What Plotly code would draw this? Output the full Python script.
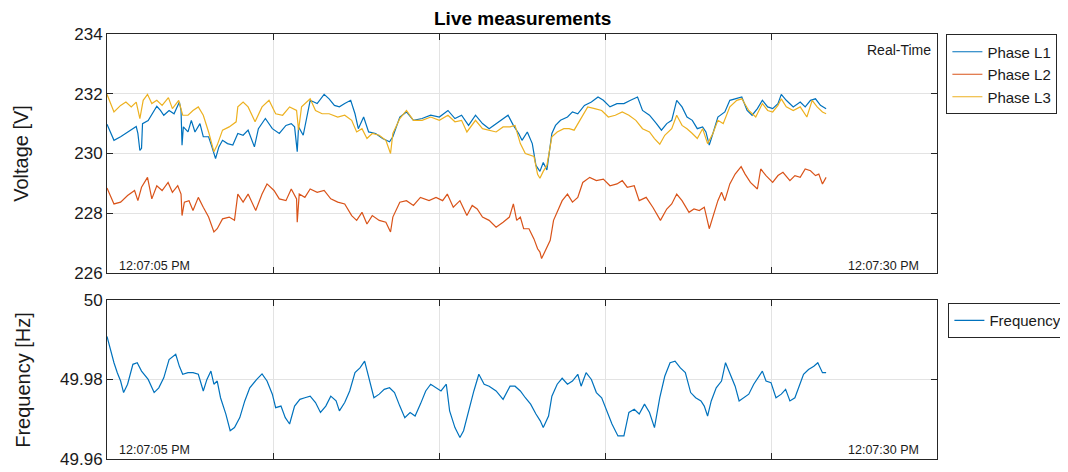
import pandas as pd
import plotly.graph_objects as go

# ---------------- data (seconds after 12:07:05, value) ----------------
START = "2024-01-01 12:07:05"
X_END_SECONDS = 25
TICK_SECONDS = 5

SERIES_NAMES = ["Phase L1", "Phase L2", "Phase L3"]
FREQ_NAME = "Frequency"

phase_l1 = [(0, 230.98), (0.21, 230.44), (0.41, 230.56), (0.73, 230.78), (0.88, 230.90), (0.93, 230.67), (0.99, 230.10),
            (1.04, 230.17), (1.07, 231.00), (1.24, 231.10), (1.40, 231.40), (1.50, 231.58), (1.61, 231.44), (1.71, 231.28),
            (1.87, 231.44), (2.02, 231.33), (2.18, 231.72), (2.23, 231.44), (2.26, 230.28), (2.30, 230.89), (2.44, 230.72),
            (2.54, 231.11), (2.65, 230.72), (2.80, 231.00), (2.90, 230.56), (3.06, 230.56), (3.16, 230.22), (3.27, 229.83),
            (3.37, 230.22), (3.48, 230.44), (3.63, 230.33), (3.79, 230.28), (3.94, 230.67), (4.10, 230.61), (4.25, 230.78),
            (4.44, 230.22), (4.56, 230.83), (4.77, 231.17), (4.98, 230.83), (5.19, 230.67), (5.39, 230.94), (5.55, 231.00),
            (5.65, 230.89), (5.73, 230.06), (5.77, 230.89), (5.91, 230.61), (6.12, 231.78), (6.33, 231.67), (6.54, 231.98),
            (6.69, 231.83), (6.85, 231.61), (7.00, 231.56), (7.16, 231.67), (7.34, 231.78), (7.47, 231.33), (7.57, 230.83),
            (7.73, 231.22), (7.88, 230.72), (8.09, 230.67), (8.30, 230.50), (8.51, 230.39), (8.61, 230.56), (8.82, 231.22),
            (9.02, 231.39), (9.23, 231.11), (9.49, 231.17), (9.75, 231.28), (10.01, 231.22), (10.27, 231.44), (10.48, 231.17),
            (10.68, 231.28), (10.89, 230.94), (11.10, 231.28), (11.31, 231.00), (11.51, 230.83), (11.72, 231.00), (11.93, 231.17),
            (12.08, 231.28), (12.24, 230.94), (12.40, 230.67), (12.50, 230.44), (12.66, 230.72), (12.81, 230.33), (12.92, 229.60),
            (13.04, 229.40), (13.14, 229.70), (13.25, 229.45), (13.30, 229.90), (13.40, 230.67), (13.51, 230.94), (13.66, 231.11),
            (13.87, 231.22), (14.02, 231.39), (14.18, 231.33), (14.38, 231.61), (14.59, 231.72), (14.79, 231.89), (14.95, 231.78),
            (15.15, 231.56), (15.36, 231.67), (15.57, 231.67), (15.77, 231.78), (15.98, 231.89), (16.13, 231.44), (16.34, 231.28),
            (16.55, 231.00), (16.70, 230.78), (16.86, 231.00), (17.01, 231.11), (17.16, 231.78), (17.32, 231.56), (17.47, 231.22),
            (17.63, 231.11), (17.78, 230.83), (17.94, 230.89), (18.04, 230.72), (18.14, 230.28), (18.25, 230.67), (18.40, 231.22),
            (18.61, 231.39), (18.76, 231.78), (18.92, 231.83), (19.12, 231.89), (19.28, 231.44), (19.43, 231.28), (19.59, 231.50),
            (19.74, 231.78), (19.90, 231.56), (20.05, 231.50), (20.21, 231.67), (20.31, 231.98), (20.46, 231.78), (20.67, 231.56),
            (20.88, 231.72), (21.03, 231.56), (21.19, 231.78), (21.34, 231.83), (21.49, 231.61), (21.66, 231.50)]

phase_l2 = [(0, 228.84), (0.21, 228.31), (0.41, 228.37), (0.62, 228.59), (0.83, 228.76), (0.93, 228.42), (1.04, 228.87),
            (1.22, 229.20), (1.35, 228.48), (1.50, 228.92), (1.66, 228.76), (1.84, 229.03), (1.97, 228.70), (2.13, 228.92),
            (2.23, 228.64), (2.26, 227.92), (2.33, 228.37), (2.47, 228.42), (2.59, 228.09), (2.75, 228.53), (2.90, 228.20),
            (3.06, 227.87), (3.22, 227.37), (3.32, 227.48), (3.48, 227.81), (3.68, 227.87), (3.84, 227.76), (3.94, 228.64),
            (4.10, 228.37), (4.25, 228.64), (4.48, 228.09), (4.67, 228.64), (4.82, 228.98), (5.03, 228.76), (5.19, 228.48),
            (5.39, 228.42), (5.55, 228.81), (5.71, 228.48), (5.73, 227.70), (5.79, 228.64), (5.96, 228.53), (6.12, 228.81),
            (6.33, 228.70), (6.54, 228.76), (6.74, 228.48), (6.95, 228.37), (7.16, 228.31), (7.37, 227.92), (7.52, 227.76),
            (7.68, 228.03), (7.83, 227.64), (7.99, 227.92), (8.20, 227.76), (8.40, 227.70), (8.54, 227.37), (8.61, 227.87),
            (8.82, 228.37), (9.02, 228.42), (9.23, 228.26), (9.44, 228.53), (9.70, 228.42), (9.91, 228.53), (10.11, 228.42),
            (10.25, 228.64), (10.43, 228.20), (10.63, 228.42), (10.84, 227.92), (11.00, 228.26), (11.15, 228.14), (11.31, 227.87),
            (11.51, 227.76), (11.72, 227.53), (11.93, 227.70), (12.12, 227.87), (12.24, 228.31), (12.34, 227.76), (12.45, 227.87),
            (12.55, 227.48), (12.71, 227.48), (12.86, 227.14), (12.97, 226.81), (13.04, 226.70), (13.09, 226.48), (13.25, 226.87),
            (13.35, 227.09), (13.45, 227.76), (13.56, 228.03), (13.71, 228.42), (13.87, 228.64), (14.02, 228.37), (14.18, 228.53),
            (14.33, 229.03), (14.54, 229.20), (14.74, 229.09), (14.95, 229.14), (15.15, 228.92), (15.36, 228.98), (15.52, 229.09),
            (15.67, 228.87), (15.88, 228.92), (16.03, 228.42), (16.24, 228.53), (16.44, 228.20), (16.67, 227.76), (16.86, 228.14),
            (17.01, 228.31), (17.16, 228.64), (17.32, 228.42), (17.53, 228.03), (17.68, 228.14), (17.84, 228.09), (17.99, 228.20),
            (18.14, 227.48), (18.30, 228.09), (18.40, 228.42), (18.51, 228.70), (18.61, 228.42), (18.76, 228.98), (18.92, 229.31),
            (19.10, 229.56), (19.22, 229.31), (19.38, 229.03), (19.59, 228.81), (19.69, 229.48), (19.85, 229.26), (20.05, 229.03),
            (20.21, 229.26), (20.36, 229.37), (20.57, 229.09), (20.72, 229.26), (20.88, 229.20), (21.03, 229.48), (21.19, 229.42),
            (21.34, 229.26), (21.44, 229.31), (21.55, 228.98), (21.66, 229.20)]

phase_l3 = [(0, 231.98), (0.10, 231.67), (0.21, 231.39), (0.41, 231.61), (0.57, 231.72), (0.73, 231.56), (0.88, 231.72),
            (0.99, 231.17), (1.09, 231.78), (1.22, 231.98), (1.35, 231.67), (1.50, 231.78), (1.66, 231.61), (1.85, 231.87),
            (1.97, 231.50), (2.16, 231.78), (2.28, 231.28), (2.44, 231.28), (2.59, 231.44), (2.75, 231.56), (2.90, 231.28),
            (3.06, 230.72), (3.22, 230.06), (3.32, 230.28), (3.48, 230.78), (3.68, 230.89), (3.89, 231.06), (3.94, 231.56),
            (4.10, 231.72), (4.25, 231.56), (4.46, 231.06), (4.67, 231.56), (4.88, 231.78), (5.08, 231.33), (5.29, 231.28),
            (5.50, 231.56), (5.71, 231.44), (5.77, 230.78), (5.86, 231.56), (6.12, 231.83), (6.28, 231.44), (6.48, 231.33),
            (6.69, 231.33), (6.95, 231.22), (7.16, 231.28), (7.37, 231.11), (7.52, 230.72), (7.68, 230.83), (7.83, 230.50),
            (7.99, 230.67), (8.20, 230.61), (8.40, 230.44), (8.54, 230.00), (8.61, 230.67), (8.82, 231.17), (9.02, 231.44),
            (9.23, 231.11), (9.49, 231.11), (9.75, 231.22), (10.01, 231.11), (10.27, 231.28), (10.48, 231.06), (10.68, 231.11),
            (10.84, 230.72), (11.10, 231.11), (11.31, 230.83), (11.51, 230.78), (11.72, 230.72), (11.93, 230.89), (12.14, 230.89),
            (12.29, 230.94), (12.45, 230.33), (12.60, 230.00), (12.76, 229.94), (12.86, 229.90), (12.97, 229.30), (13.04, 229.17),
            (13.14, 229.40), (13.25, 229.60), (13.40, 230.56), (13.56, 230.72), (13.76, 230.83), (13.92, 230.83), (14.07, 230.78),
            (14.28, 231.17), (14.48, 231.56), (14.69, 231.50), (14.90, 231.44), (15.10, 231.22), (15.31, 231.28), (15.52, 231.39),
            (15.72, 231.28), (15.93, 231.11), (16.13, 230.83), (16.34, 230.72), (16.49, 230.50), (16.65, 230.31), (16.80, 230.61),
            (17.01, 230.83), (17.16, 231.28), (17.32, 230.94), (17.47, 230.83), (17.63, 230.67), (17.78, 230.50), (17.94, 230.83),
            (18.09, 230.33), (18.25, 230.67), (18.40, 231.11), (18.56, 231.00), (18.76, 231.56), (18.97, 231.78), (19.12, 231.83),
            (19.33, 231.44), (19.54, 231.22), (19.74, 231.67), (19.90, 231.44), (20.05, 231.39), (20.21, 231.61), (20.31, 231.83),
            (20.46, 231.56), (20.67, 231.44), (20.88, 231.56), (21.08, 231.22), (21.24, 231.78), (21.39, 231.56), (21.55, 231.39),
            (21.66, 231.33)]

frequency = [(0, 49.9908), (0.10, 49.9875), (0.21, 49.9842), (0.31, 49.9817), (0.41, 49.9796), (0.50, 49.9767), (0.62, 49.9788),
             (0.78, 49.9838), (0.91, 49.9842), (1.04, 49.9821), (1.24, 49.9800), (1.42, 49.9767), (1.56, 49.9779), (1.71, 49.9804),
             (1.87, 49.9850), (2.07, 49.9863), (2.18, 49.9833), (2.28, 49.9813), (2.44, 49.9817), (2.59, 49.9817), (2.75, 49.9813),
             (2.90, 49.9771), (3.01, 49.9800), (3.13, 49.9821), (3.22, 49.9788), (3.32, 49.9796), (3.42, 49.9754), (3.58, 49.9713),
             (3.71, 49.9671), (3.84, 49.9679), (4.00, 49.9704), (4.15, 49.9746), (4.30, 49.9779), (4.51, 49.9800), (4.67, 49.9814),
             (4.82, 49.9796), (4.98, 49.9763), (5.08, 49.9729), (5.24, 49.9733), (5.37, 49.9704), (5.50, 49.9688), (5.65, 49.9733),
             (5.81, 49.9750), (5.96, 49.9754), (6.12, 49.9758), (6.28, 49.9742), (6.43, 49.9717), (6.59, 49.9733), (6.74, 49.9758),
             (6.90, 49.9746), (7.00, 49.9721), (7.16, 49.9742), (7.31, 49.9771), (7.47, 49.9817), (7.62, 49.9829), (7.76, 49.9846),
             (7.88, 49.9808), (8.04, 49.9754), (8.20, 49.9763), (8.35, 49.9775), (8.51, 49.9779), (8.66, 49.9767), (8.82, 49.9733),
             (8.97, 49.9704), (9.13, 49.9717), (9.28, 49.9708), (9.44, 49.9738), (9.60, 49.9771), (9.75, 49.9788), (9.91, 49.9779),
             (10.06, 49.9771), (10.22, 49.9788), (10.32, 49.9721), (10.48, 49.9679), (10.63, 49.9654), (10.74, 49.9671),
             (10.89, 49.9721), (11.05, 49.9771), (11.20, 49.9813), (11.36, 49.9788), (11.51, 49.9783), (11.72, 49.9771),
             (11.93, 49.9750), (12.14, 49.9783), (12.29, 49.9783), (12.45, 49.9771), (12.60, 49.9754), (12.76, 49.9738),
             (12.92, 49.9713), (13.05, 49.9696), (13.14, 49.9679), (13.30, 49.9708), (13.40, 49.9758), (13.56, 49.9788),
             (13.71, 49.9803), (13.87, 49.9788), (14.02, 49.9796), (14.18, 49.9813), (14.28, 49.9783), (14.43, 49.9817),
             (14.59, 49.9800), (14.74, 49.9767), (14.90, 49.9754), (15.05, 49.9721), (15.21, 49.9688), (15.39, 49.9658),
             (15.57, 49.9658), (15.72, 49.9717), (15.88, 49.9725), (16.03, 49.9713), (16.19, 49.9738), (16.34, 49.9717),
             (16.49, 49.9679), (16.65, 49.9754), (16.80, 49.9808), (16.96, 49.9842), (17.11, 49.9846), (17.27, 49.9829),
             (17.42, 49.9817), (17.58, 49.9767), (17.73, 49.9754), (17.89, 49.9746), (17.99, 49.9733), (18.09, 49.9708),
             (18.20, 49.9746), (18.35, 49.9779), (18.51, 49.9796), (18.63, 49.9842), (18.76, 49.9817), (18.92, 49.9783),
             (19.04, 49.9746), (19.18, 49.9754), (19.33, 49.9763), (19.48, 49.9788), (19.64, 49.9808), (19.74, 49.9821),
             (19.85, 49.9796), (20.00, 49.9792), (20.15, 49.9754), (20.31, 49.9763), (20.44, 49.9775), (20.57, 49.9746),
             (20.72, 49.9754), (20.88, 49.9788), (20.98, 49.9813), (21.13, 49.9825), (21.29, 49.9833), (21.41, 49.9842),
             (21.55, 49.9817), (21.66, 49.9817)]

voltage_ticks = [226, 228, 230, 232, 234]
freq_ticks = [49.96, 49.98, 50]
freq_tick_text = ["49.96", "49.98", "50"]
corner_left = "12:07:05 PM"
corner_right = "12:07:30 PM"

# ---------------- styling ----------------
FONT = "Liberation Sans, Arial, Helvetica, sans-serif"
C_L1, C_L2, C_L3 = "#0072BD", "#D95319", "#EDB120"
AX = "#262626"
GRID = "#e3e3e3"
OFF = 8  # page body margin around the plot div

base = pd.Timestamp(START)


def to_xy(pairs):
    xs = [base + pd.to_timedelta(t, unit="s") for t, _ in pairs]
    ys = [v for _, v in pairs]
    return xs, ys


fig = go.Figure()
for name, data, col in zip(SERIES_NAMES, [phase_l1, phase_l2, phase_l3], [C_L1, C_L2, C_L3]):
    xs, ys = to_xy(data)
    fig.add_trace(go.Scatter(x=xs, y=ys, mode="lines", name=name, line=dict(color=col, width=1.2),
                             xaxis="x", yaxis="y", legend="legend"))
xs, ys = to_xy(frequency)
fig.add_trace(go.Scatter(x=xs, y=ys, mode="lines", name=FREQ_NAME, line=dict(color=C_L1, width=1.2),
                         xaxis="x2", yaxis="y2", legend="legend2"))

W, H = 1068 - 2 * OFF, 472 - OFF
# target page pixel positions
P_LEFT, P_RIGHT, P_TOP, P_BOT = 106.7, 937.3, 33.5, 459.5
ML, MR = P_LEFT - OFF, W - (P_RIGHT - OFF)
MT, MB = P_TOP - OFF, H - (P_BOT - OFF)
PH = H - MT - MB
PW = W - ML - MR


def py(page_y):
    """page y pixel -> plot-area paper fraction"""
    return (P_BOT - page_y) / PH


def px(page_x):
    return (page_x - P_LEFT) / PW


top_dom = [py(273), 1.0]
bot_dom = [0.0, py(300)]

x_range = [base, base + pd.to_timedelta(X_END_SECONDS, unit="s")]
xcommon = dict(type="date", range=x_range, dtick=TICK_SECONDS * 1000, tick0=base, showticklabels=False,
               showgrid=True, gridcolor=GRID, gridwidth=1, ticks="inside", ticklen=6, tickcolor=AX,
               showline=True, linecolor=AX, linewidth=1, mirror="allticks", zeroline=False, automargin=False)
ycommon = dict(showgrid=True, gridcolor=GRID, gridwidth=1, ticks="inside", ticklen=6, tickcolor=AX,
               showline=True, linecolor=AX, linewidth=1, mirror="allticks", zeroline=False, automargin=False,
               tickfont=dict(family=FONT, size=17, color="#1a1a1a"))

fig.update_layout(
    width=W, height=H,
    margin=dict(l=ML, r=MR, t=MT, b=MB, pad=0, autoexpand=False),
    paper_bgcolor="white", plot_bgcolor="white",
    font=dict(family=FONT, color="#1a1a1a"),
    xaxis=dict(**xcommon, anchor="y"),
    xaxis2=dict(**xcommon, anchor="y2", matches="x"),
    yaxis=dict(**ycommon, domain=top_dom, range=[226, 234], tickvals=voltage_ticks,
               ticktext=[str(v) for v in voltage_ticks]),
    yaxis2=dict(**ycommon, domain=bot_dom, range=[49.96, 50], tickvals=freq_ticks, ticktext=freq_tick_text),
    legend=dict(x=px(946.7), y=py(34), xanchor="left", yanchor="top",
                bordercolor=AX, borderwidth=1, bgcolor="white", font=dict(family=FONT, size=15),
                tracegroupgap=0),
    legend2=dict(x=px(948.7), y=py(303.3), xanchor="left", yanchor="top",
                 bordercolor=AX, borderwidth=1, bgcolor="white", font=dict(family=FONT, size=15)),
    showlegend=True,
)

ann = []
ann.append(dict(text="<b>Live measurements</b>", xref="paper", yref="y domain", x=0.5, y=1, yshift=16,
                xanchor="center", yanchor="middle", showarrow=False, font=dict(family=FONT, size=19, color="black")))
ann.append(dict(text="Voltage [V]", xref="paper", yref="y domain", x=px(21), y=0.5, textangle=-90,
                xanchor="center", yanchor="middle", showarrow=False, font=dict(family=FONT, size=20)))
ann.append(dict(text="Frequency [Hz]", xref="paper", yref="y2 domain", x=px(23), y=0.5, textangle=-90,
                xanchor="center", yanchor="middle", showarrow=False, font=dict(family=FONT, size=20)))
ann.append(dict(text="Real-Time", xref="x domain", yref="y domain", x=1, y=1, xshift=-4, yshift=-15.5,
                xanchor="right", yanchor="middle", showarrow=False, font=dict(family=FONT, size=14)))
for yd, ys_ in (("y domain", 6.5), ("y2 domain", 9)):
    ann.append(dict(text=corner_left, xref="x domain", yref=yd, x=0, y=0, xshift=9.5, yshift=ys_,
                    xanchor="left", yanchor="middle", showarrow=False, font=dict(family=FONT, size=12.5)))
    ann.append(dict(text=corner_right, xref="x domain", yref=yd, x=1, y=0, xshift=-16, yshift=ys_,
                    xanchor="right", yanchor="middle", showarrow=False, font=dict(family=FONT, size=12.5)))
fig.update_layout(annotations=ann)

fig.write_html("out.html")
